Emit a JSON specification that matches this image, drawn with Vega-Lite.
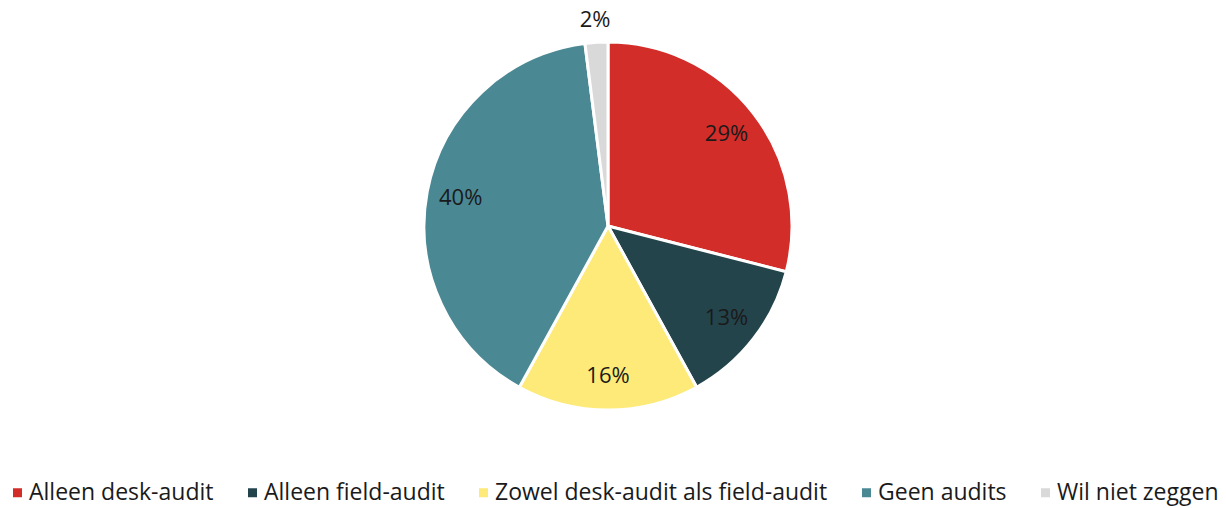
{
  "$schema": "https://vega.github.io/schema/vega-lite/v6.json",
  "autosize": {"type": "fit", "contains": "padding"},
  "width": 1226,
  "height": 508,
  "padding": {"left": 6, "right": 16, "top": 9, "bottom": 3},
  "background": "white",
  "config": {"view": {"stroke": null}, "font": "Open Sans"},
  "data": {
    "values": [
      {"category": "Alleen desk-audit", "value": 29, "label": "29%", "rank": 1},
      {"category": "Alleen field-audit", "value": 13, "label": "13%", "rank": 2},
      {"category": "Zowel desk-audit als field-audit", "value": 16, "label": "16%", "rank": 3},
      {"category": "Geen audits", "value": 40, "label": "40%", "rank": 4},
      {"category": "Wil niet zeggen", "value": 2, "label": "2%", "rank": 5}
    ]
  },
  "encoding": {
    "theta": {"field": "value", "type": "quantitative", "stack": true},
    "order": {"field": "rank", "type": "quantitative"}
  },
  "layer": [
    {
      "mark": {"type": "arc", "outerRadius": 184, "stroke": "white", "strokeWidth": 3},
      "encoding": {
        "color": {
          "field": "category",
          "type": "nominal",
          "sort": ["Alleen desk-audit", "Alleen field-audit", "Zowel desk-audit als field-audit", "Geen audits", "Wil niet zeggen"],
          "scale": {
            "domain": ["Alleen desk-audit", "Alleen field-audit", "Zowel desk-audit als field-audit", "Geen audits", "Wil niet zeggen"],
            "range": ["#D32D2A", "#24444C", "#FDEA78", "#4A8894", "#D9D9D9"]
          },
          "legend": {
            "title": null,
            "orient": "bottom",
            "direction": "horizontal",
            "symbolType": "square",
            "symbolSize": 81,
            "symbolStrokeWidth": 0,
            "labelFontSize": 23,
            "labelFont": "Open Sans",
            "labelColor": "#1a1a1a",
            "labelLimit": 0,
            "columnPadding": 27,
            "labelOffset": 0,
            "offset": 38
          }
        }
      }
    },
    {
      "mark": {"type": "text", "radius": 150, "fontSize": 22, "font": "Open Sans", "color": "#1a1a1a"},
      "encoding": {"text": {"condition": {"test": "datum.value > 5", "field": "label"}, "value": ""}}
    },
    {
      "mark": {"type": "text", "radius": 206, "fontSize": 22, "font": "Open Sans", "color": "#1a1a1a"},
      "encoding": {"text": {"condition": {"test": "datum.value <= 5", "field": "label"}, "value": ""}}
    }
  ]
}
